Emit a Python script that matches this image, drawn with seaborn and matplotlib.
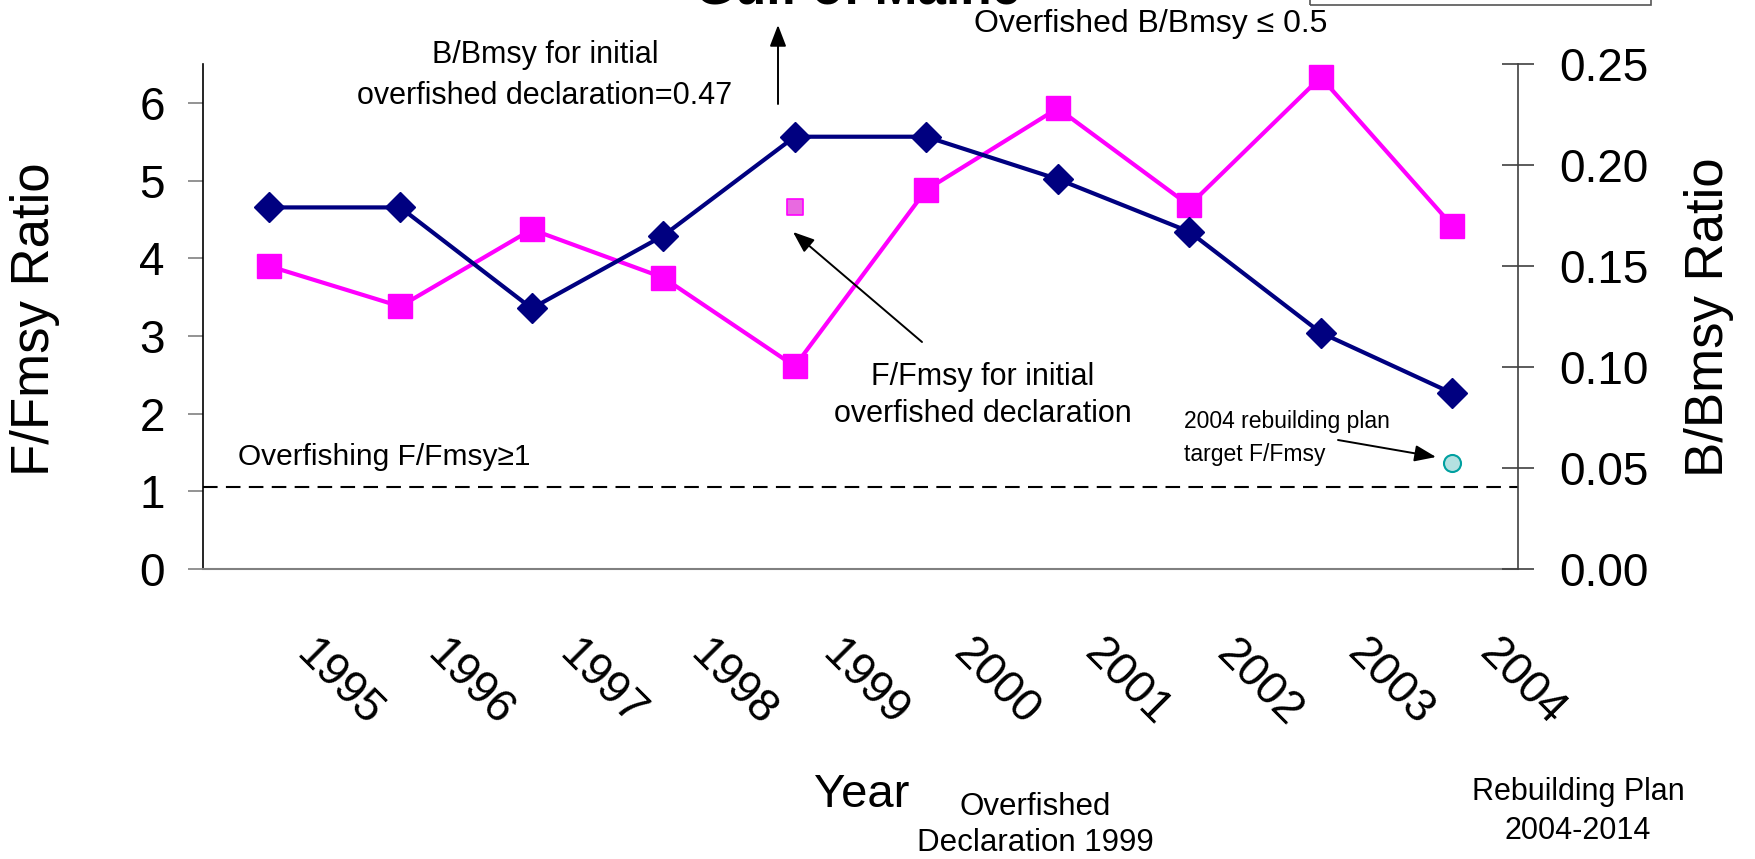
import matplotlib
matplotlib.use("Agg")
import matplotlib.pyplot as plt
import matplotlib.transforms as mtransforms
from matplotlib.patches import Rectangle
from matplotlib.ticker import FormatStrFormatter
import seaborn as sns
import numpy as np

# data
years = [1995, 1996, 1997, 1998, 1999, 2000, 2001, 2002, 2003, 2004]
f_fmsy = [3.90, 3.38, 4.37, 3.75, 2.61, 4.88, 5.93, 4.68, 6.33, 4.42]
b_bmsy = [0.179, 0.179, 0.129, 0.165, 0.214, 0.214, 0.193, 0.167, 0.117, 0.087]
initial_decl_year = [1999]
initial_decl_f = [4.66]
target_year = [2004]
target_f = [1.37]
overfishing_line = 1.05
left_ticks = [0, 1, 2, 3, 4, 5, 6]
right_ticks = [0.00, 0.05, 0.10, 0.15, 0.20, 0.25]

NAVY = "#000080"
MAGENTA = "#FF00FF"

sns.set_style("white")
plt.rcParams["font.family"] = ["Liberation Sans", "DejaVu Sans"]
plt.rcParams.update({"text.color": "black", "axes.labelcolor": "black",
                     "xtick.color": "black", "ytick.color": "black"})

W, H = 1756, 859
fig = plt.figure(figsize=(W / 100, H / 100), dpi=100)

def fx(x):
    return x / W

def fy(y):
    return 1 - y / H

ax = fig.add_axes([fx(203), fy(569), 1315 / W, 505 / H])
ax2 = ax.twinx()

# F/Fmsy on the left axis
sns.lineplot(x=years, y=f_fmsy, ax=ax, color=MAGENTA, lw=3.0, marker="s",
             markersize=17, markeredgecolor=MAGENTA, markeredgewidth=1)
sns.scatterplot(x=initial_decl_year, y=initial_decl_f, ax=ax, marker="s", s=125,
                color="#E86AE0", edgecolor=MAGENTA, linewidth=1.2, zorder=5)
sns.scatterplot(x=target_year, y=target_f, ax=ax, marker="o", s=150,
                color="#B4E1E1", edgecolor="#00A0A0", linewidth=1.5, zorder=5)
ax.axhline(overfishing_line, color="black", lw=1.5, ls=(0, (7, 4)))

# B/Bmsy on the right axis
sns.lineplot(x=years, y=b_bmsy, ax=ax2, color=NAVY, lw=3.0, marker="D",
             markersize=15, markeredgecolor=NAVY, markeredgewidth=1)

ax.set_xlim(years[0] - 0.5, years[-1] + 0.5)
ax.set_ylim(0, 6.5)
ax2.set_ylim(0, 0.25)
ax.set_yticks(left_ticks)
ax2.set_yticks(right_ticks)
ax2.yaxis.set_major_formatter(FormatStrFormatter("%.2f"))

bounds = [y - 0.5 for y in years] + [years[-1] + 0.5]
ax.set_xticks(years)
ax.set_xticklabels([])
ax.set_xticks(bounds, minor=True)
ax.tick_params(axis="x", which="major", length=0)
ax.tick_params(axis="x", which="minor", direction="out", length=11.5,
               width=1.2, color="#808080")
ax.tick_params(axis="y", direction="out", length=10.8, width=1.2,
               color="#808080", labelsize=33, pad=16.6)
ax2.tick_params(axis="y", direction="inout", length=23, width=1.2,
                color="#404040", labelsize=33, pad=18)

for s in ["top", "right"]:
    ax.spines[s].set_visible(False)
ax.spines["left"].set_color("black")
ax.spines["left"].set_linewidth(1.2)
ax.spines["bottom"].set_color("#808080")
ax.spines["bottom"].set_linewidth(1.5)
for s in ["top", "left", "bottom"]:
    ax2.spines[s].set_visible(False)
ax2.spines["right"].set_color("#404040")
ax2.spines["right"].set_linewidth(1.2)
ax.grid(False)
ax2.grid(False)

# rotated year labels, shifted like the original
off = mtransforms.ScaledTranslation(0.70, -1.14, fig.dpi_scale_trans)
trans = mtransforms.blended_transform_factory(ax.transData, ax.transAxes) + off
for yr in years:
    ax.text(yr, 0, str(yr), transform=trans, ha="center", va="center",
            rotation=-45, rotation_mode="anchor", fontsize=33, clip_on=False)

ax.set_ylabel("F/Fmsy Ratio", fontsize=38)
ax.yaxis.label.set_va("center")
ax.yaxis.set_label_coords((35 - 203) / 1315, 0.495)
ax2.set_ylabel("B/Bmsy Ratio", fontsize=38)
ax2.yaxis.label.set_va("center")
ax2.yaxis.set_label_coords((1709 - 203) / 1315, 0.498)
ax.set_xlabel("Year", fontsize=34)
ax.xaxis.label.set_va("center")
ax.xaxis.set_label_coords((862 - 203) / 1315, (569 - 795) / 505)

# title mostly cut off by the top edge, and the clipped box beside it
fig.text(fx(858), fy(3), "Gulf of Maine", ha="center", va="baseline",
         fontsize=37, fontweight="bold")
fig.patches.append(Rectangle((fx(1310), fy(5)), 341 / W, 0.1, transform=fig.transFigure,
                             fill=False, edgecolor="#555555", lw=1.2))

def label(x, y, s, size=22, ha="center"):
    fig.text(fx(x), fy(y), s, ha=ha, va="baseline", fontsize=size)

label(545, 63, "B/Bmsy for initial")
label(545, 104, "overfished declaration=0.47")
label(1151, 32, "Overfished B/Bmsy \u2264 0.5", size=23)
label(983, 385, "F/Fmsy for initial")
label(983, 422, "overfished declaration")
label(238, 465, "Overfishing F/Fmsy\u22651", size=21.5, ha="left")
label(1184, 428, "2004 rebuilding plan", size=16.5, ha="left")
label(1184, 461, "target F/Fmsy", size=16.5, ha="left")
label(1035, 815, "Overfished", size=22.5)
label(1035, 851, "Declaration 1999", size=22.5)
label(1578, 800, "Rebuilding Plan")
label(1578, 839, "2004-2014")

def arrow(tail, head):
    ax.annotate("", xy=(head[0], H - head[1]), xytext=(tail[0], H - tail[1]),
                xycoords="figure pixels", textcoords="figure pixels",
                arrowprops=dict(arrowstyle="-|>,head_length=0.65,head_width=0.25",
                                color="black", lw=1.4, mutation_scale=20,
                                shrinkA=0, shrinkB=0))

arrow((778, 104), (778, 25))
arrow((922, 342), (793, 232))
arrow((1338, 440), (1436, 457))

fig.savefig("out.png", dpi=100)
